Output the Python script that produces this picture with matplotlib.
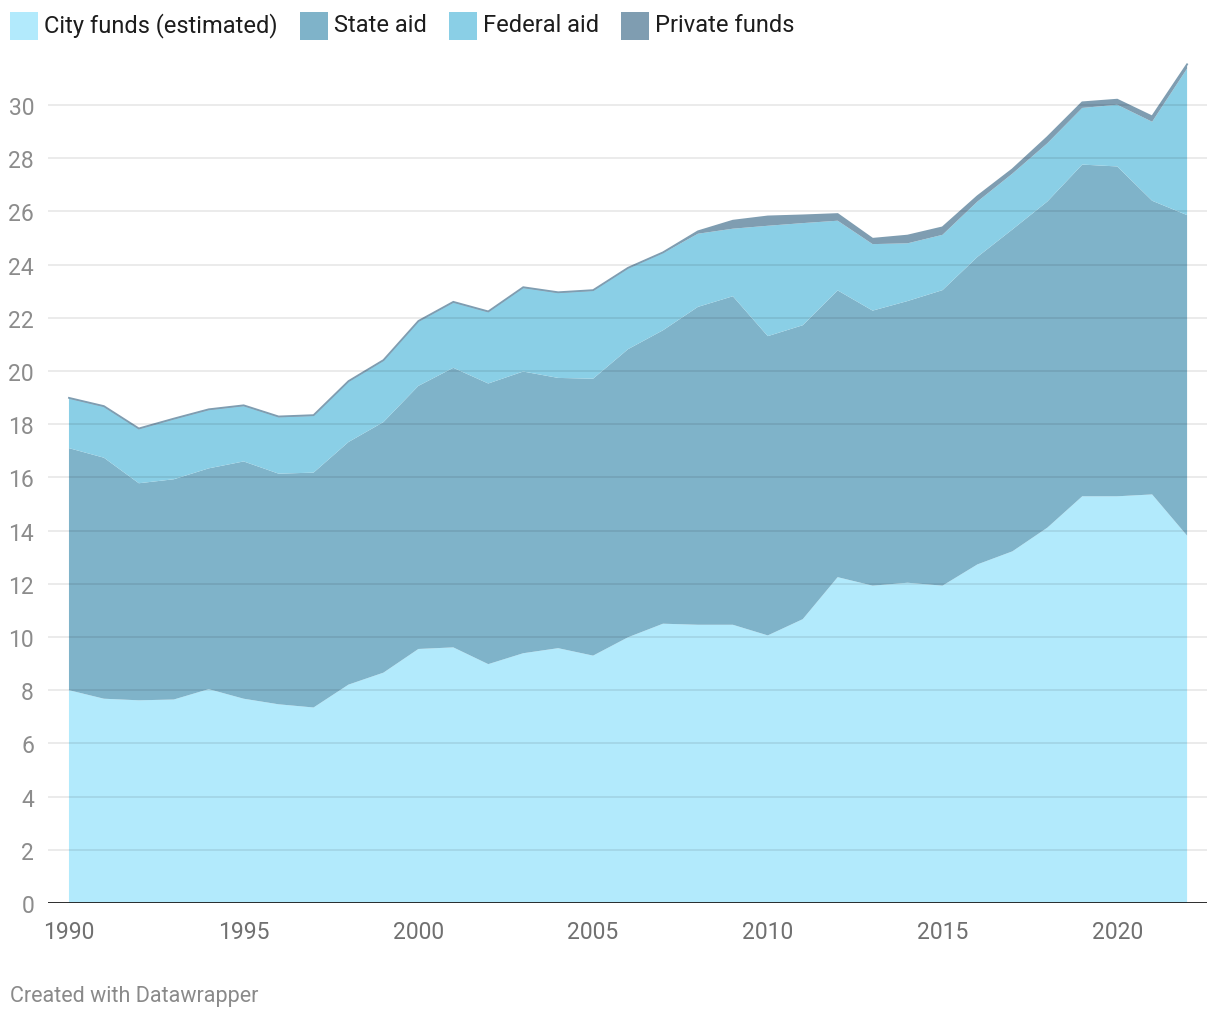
import matplotlib
matplotlib.use("Agg")
import matplotlib.pyplot as plt
import matplotlib.patches as mpatches
import numpy as np

plt.rcParams['font.family'] = ['Roboto', 'DejaVu Sans']

years = list(range(1990, 2023))

city = [8.0, 7.68, 7.62, 7.65, 8.04, 7.68, 7.47, 7.35, 8.21, 8.66,
        9.55, 9.61, 8.98, 9.39, 9.58, 9.3, 9.99, 10.5, 10.46, 10.46,
        10.06, 10.67, 12.25, 11.93, 12.04, 11.93, 12.73, 13.22, 14.11, 15.29,
        15.29, 15.36, 13.81]
state = [9.1, 9.06, 8.16, 8.28, 8.3, 8.92, 8.67, 8.83, 9.12, 9.42,
         9.89, 10.51, 10.55, 10.59, 10.16, 10.41, 10.83, 11.03, 11.95, 12.35,
         11.25, 11.05, 10.78, 10.34, 10.59, 11.11, 11.56, 12.1, 12.26, 12.47,
         12.4, 11.04, 12.05]
federal = [1.86, 1.91, 2.03, 2.25, 2.19, 2.08, 2.12, 2.13, 2.26, 2.3,
           2.41, 2.45, 2.68, 3.14, 3.19, 3.3, 3.03, 2.9, 2.75, 2.54,
           4.15, 3.84, 2.62, 2.5, 2.17, 2.08, 2.08, 2.1, 2.19, 2.13,
           2.32, 2.97, 5.51]
private = [0.03, 0.03, 0.03, 0.03, 0.03, 0.03, 0.03, 0.03, 0.03, 0.03,
           0.03, 0.03, 0.03, 0.03, 0.03, 0.03, 0.03, 0.03, 0.09, 0.3,
           0.35, 0.29, 0.25, 0.2, 0.29, 0.28, 0.2, 0.16, 0.23, 0.21,
           0.19, 0.2, 0.16]

labels = ['City funds (estimated)', 'State aid', 'Federal aid', 'Private funds']
colors = ['#b2eafc', '#7fb3c9', '#8acfe6', '#7f9db1']

fig = plt.figure(figsize=(12.2, 10.2), dpi=100)
W, H = 1220, 1020
ax = fig.add_axes([48 / W, 1 - 904 / H, (1207 - 48) / W, (904 - 52.8) / H])

ax.stackplot(years, city, state, federal, private, colors=colors, linewidth=0)
top = np.sum([city, state, federal, private], axis=0)
ax.plot(years, top, color=colors[3], linewidth=1.3, solid_joinstyle='miter')

ax.set_xlim(1989.4, 2022.57)
ax.set_ylim(0, 32)

# gridlines above the areas, like the reference
for v in range(2, 31, 2):
    ax.axhline(v, color='black', alpha=0.1, linewidth=1.1, zorder=5)
ax.axhline(0, color='#1a1a1a', linewidth=2, zorder=6)

ax.set_yticks(range(0, 31, 2))
ax.set_xticks(range(1990, 2021, 5))
ax.tick_params(axis='y', length=0, pad=10, labelsize=16.5, labelcolor='#8c8c8c')
ax.tick_params(axis='x', length=0, pad=12, labelsize=16.5, labelcolor='#707070')
for s in ax.spines.values():
    s.set_visible(False)

# legend row
legend_x = [10, 300, 449, 621]
for x0, lab, col in zip(legend_x, labels, colors):
    fig.patches.append(mpatches.Rectangle((x0 / W, 1 - 41 / H), 28 / W, 28 / H,
                                          transform=fig.transFigure, facecolor=col,
                                          edgecolor='none'))
    fig.text((x0 + 34) / W, 1 - 26 / H, lab, fontsize=17, color='#1d1d1d',
             va='center', ha='left')

fig.text(10 / W, 1 - 997 / H, 'Created with Datawrapper', fontsize=15.5,
         color='#8a8a8a', va='center', ha='left')

fig.savefig('out.png', dpi=100)
